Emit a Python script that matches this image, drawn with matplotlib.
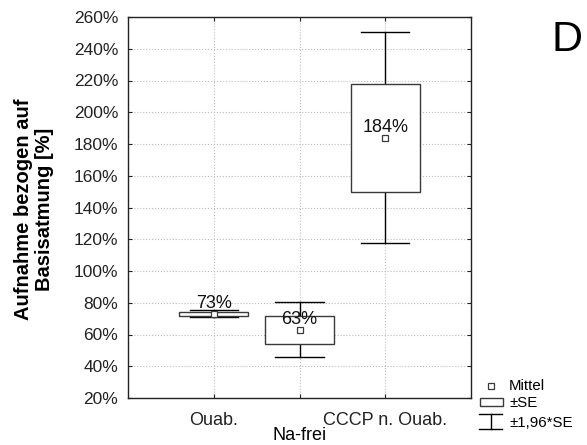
import matplotlib
matplotlib.use("Agg")
import matplotlib.pyplot as plt
from matplotlib.patches import Rectangle

plt.rcParams["font.family"] = ["Liberation Sans", "DejaVu Sans"]

# Group positions and labels
positions = [1, 2, 3]
tick_labels = ["Ouab.", "", "CCCP n. Ouab."]
x_label = "Na-frei"

# Mean uptake relative to basal respiration (%) and standard errors
means = [73, 63, 184]
se = [1.1, 8.8, 34.0]
mean_labels = ["73%", "63%", "184%"]

y_ticks = list(range(20, 261, 20))

W, H = 587, 445
fig = plt.figure(figsize=(W / 100, H / 100), dpi=100)
ax = fig.add_axes([128 / W, 1 - 398 / H, 343 / W, 381 / H])

box_w = 0.8
cap_w = 0.56
edge = "#3a3a3a"
for x, m, s, lab in zip(positions, means, se, mean_labels):
    lo2, hi2 = m - 1.96 * s, m + 1.96 * s
    ax.plot([x, x], [lo2, hi2], color="black", lw=1.0, zorder=2)
    ax.plot([x - cap_w / 2, x + cap_w / 2], [hi2, hi2], color="black", lw=1.0, zorder=2)
    ax.plot([x - cap_w / 2, x + cap_w / 2], [lo2, lo2], color="black", lw=1.0, zorder=2)
    ax.add_patch(Rectangle((x - box_w / 2, m - s), box_w, 2 * s,
                           facecolor="white", edgecolor=edge, lw=1.0, zorder=3))
    ax.plot([x], [m], marker="s", ms=5, mfc="white", mec=edge, mew=0.9,
            ls="none", zorder=4)
    ax.annotate(lab, (x, m), xytext=(0, 10), textcoords="offset pixels",
                ha="center", va="center", fontsize=13, color="#111111", zorder=5)

ax.set_xlim(0, 4)
ax.set_ylim(20, 260)
ax.set_xticks(positions)
ax.set_xticklabels(tick_labels, fontsize=13)
ax.set_yticks(y_ticks)
ax.set_yticklabels([f"{v}%" for v in y_ticks], fontsize=12.5)
ax.set_xlabel(x_label, fontsize=13, va="center")
ax.xaxis.set_label_coords(0.5, -(436 - 398) / 381)
ax.tick_params(direction="in", length=3, width=0.8, top=True, right=True,
               colors="#222222")
ax.tick_params(axis="y", pad=7)
ax.tick_params(axis="x", pad=10)
ax.grid(True, color="#bdbdbd", ls=":", lw=0.8)
ax.set_axisbelow(True)
for sp in ax.spines.values():
    sp.set_color("#222222")
    sp.set_linewidth(1.0)

fig.text(34 / W, 1 - 209 / H, "Aufnahme bezogen auf\nBasisatmung [%]",
         rotation=90, ha="center", va="center", multialignment="center",
         fontsize=14.5, fontweight="bold", linespacing=1.1)

fig.text(567 / W, 1 - 40 / H, "D", ha="center", va="center", fontsize=31)

# Legend drawn in figure pixel coordinates
lg = fig.add_axes([0, 0, 1, 1], facecolor="none")
lg.set_xlim(0, W)
lg.set_ylim(H, 0)
lg.axis("off")
lg.plot([491], [386], marker="s", ms=5, mfc="white", mec=edge, mew=0.9, ls="none")
lg.add_patch(Rectangle((480, 398), 23, 8, facecolor="white", edgecolor=edge, lw=1.0))
lg.plot([479, 502], [414, 414], color="black", lw=1.0)
lg.plot([491, 491], [414, 429], color="black", lw=1.0)
lg.plot([479, 502], [429, 429], color="black", lw=1.0)
for ty, t in [(386, "Mittel"), (403, "±SE"), (423, "±1,96*SE")]:
    lg.text(509, ty, t, ha="left", va="center", fontsize=10.8)

fig.savefig("out.png", dpi=100)
